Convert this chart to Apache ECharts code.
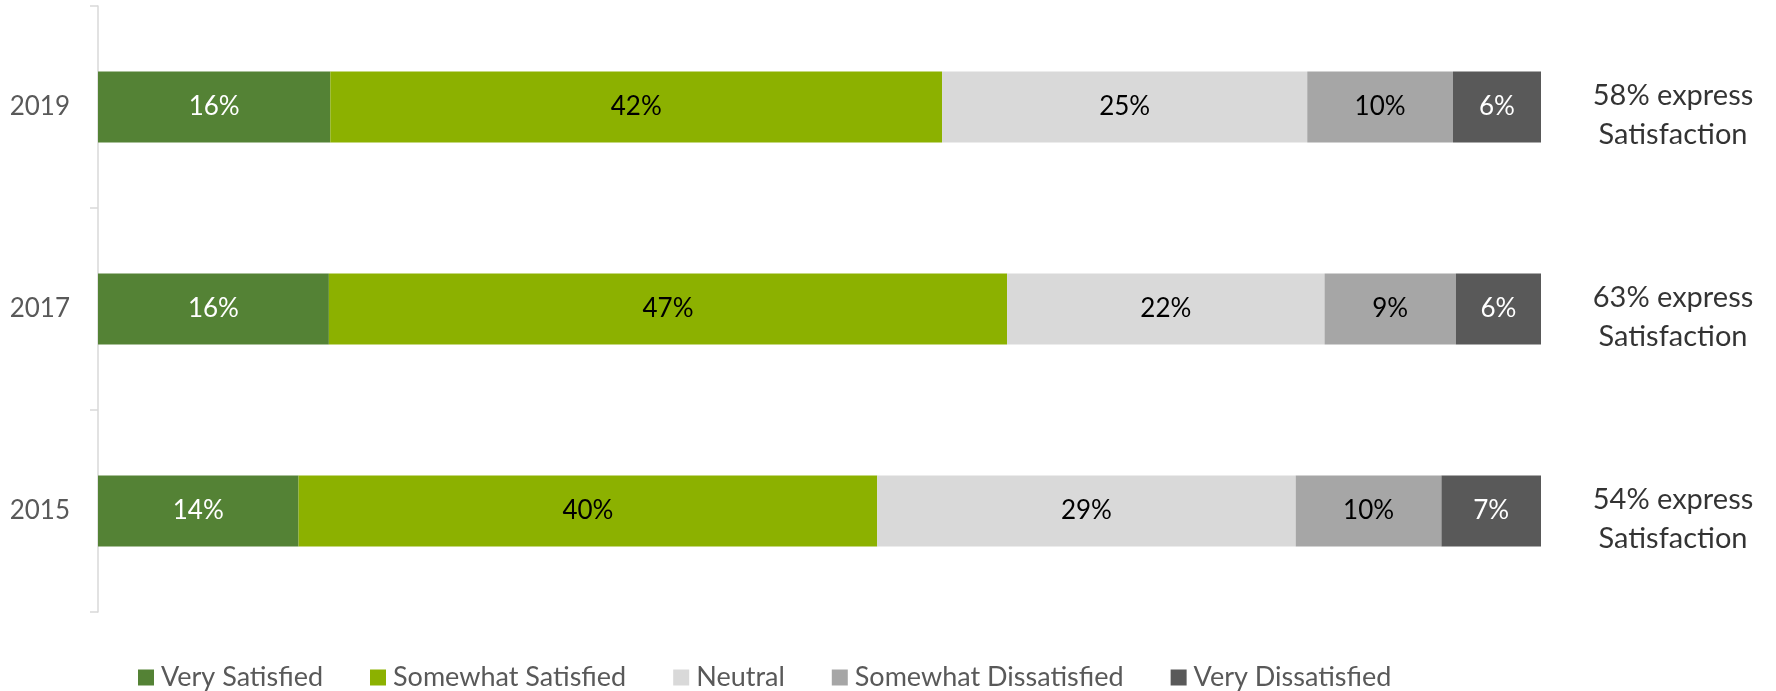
<!DOCTYPE html>
<html>
<head>
<meta charset="utf-8">
<script src="https://cdn.jsdelivr.net/npm/echarts@6/dist/echarts.min.js"></script>
<style>
html,body{margin:0;padding:0;background:#fff;}
#chart{width:1776px;height:691px;}
</style>
</head>
<body>
<div id="chart"></div>
<script>
// Categories (top to bottom)
const years = ['2019', '2017', '2015'];
// Series values (percent)
const verySatisfied = [16.1, 16.0, 13.9];
const somewhatSatisfied = [42.4, 47.0, 40.1];
const neutral = [25.3, 22.0, 29.0];
const somewhatDissatisfied = [10.1, 9.1, 10.1];
const veryDissatisfied = [6.1, 5.9, 6.9];
// Right-side annotation values
const satisfaction = [58, 63, 54];

const seriesNames = ['Very Satisfied', 'Somewhat Satisfied', 'Neutral', 'Somewhat Dissatisfied', 'Very Dissatisfied'];
const seriesData = [verySatisfied, somewhatSatisfied, neutral, somewhatDissatisfied, veryDissatisfied];
const colors = ['#548235', '#8CB100', '#D9D9D9', '#A6A6A6', '#595959'];
const labelColors = ['#ffffff', '#000000', '#000000', '#000000', '#ffffff'];

const FONT = 'Lato, "Open Sans", sans-serif';

const chart = echarts.init(document.getElementById('chart'), null, {renderer: 'canvas'});

const series = seriesNames.map((name, i) => ({
  name: name,
  type: 'bar',
  stack: 'total',
  barWidth: 71,
  data: seriesData[i],
  itemStyle: {color: colors[i]},
  label: {
    show: true,
    position: 'inside',
    color: labelColors[i],
    fontFamily: FONT,
    fontSize: 26,
    formatter: p => Math.round(p.value) + '%'
  },
  emphasis: {disabled: true}
}));

series.push({
  type: 'scatter',
  symbolSize: 0,
  silent: true,
  data: years.map((y, i) => [100, y]),
  label: {
    show: true,
    position: 'inside',
    offset: [132, 8],
    align: 'center',
    verticalAlign: 'middle',
    color: '#000000',
    fontFamily: FONT,
    fontSize: 29,
    lineHeight: 39,
    formatter: p => satisfaction[p.dataIndex] + '% express\nSatisfaction'
  }
});

chart.setOption({
  animation: false,
  color: colors,
  grid: {left: 98, right: 235, top: 6, bottom: 79, containLabel: false},
  legend: {
    data: seriesNames,
    left: 133,
    top: 659,
    itemWidth: 16,
    itemHeight: 16,
    itemGap: 47,
    icon: 'rect',
    textStyle: {color: '#595959', fontFamily: FONT, fontSize: 27, padding: [0, 0, 0, 2]}
  },
  xAxis: {
    type: 'value',
    min: 0,
    max: 100,
    show: false
  },
  yAxis: {
    type: 'category',
    data: years,
    inverse: true,
    axisLine: {show: true, lineStyle: {color: '#D9D9D9', width: 1.5}},
    axisTick: {show: true, length: 8, lineStyle: {color: '#D9D9D9', width: 1.5}},
    axisLabel: {color: '#595959', fontFamily: FONT, fontSize: 26, margin: 28}
  },
  series: series
});
</script>
</body>
</html>
